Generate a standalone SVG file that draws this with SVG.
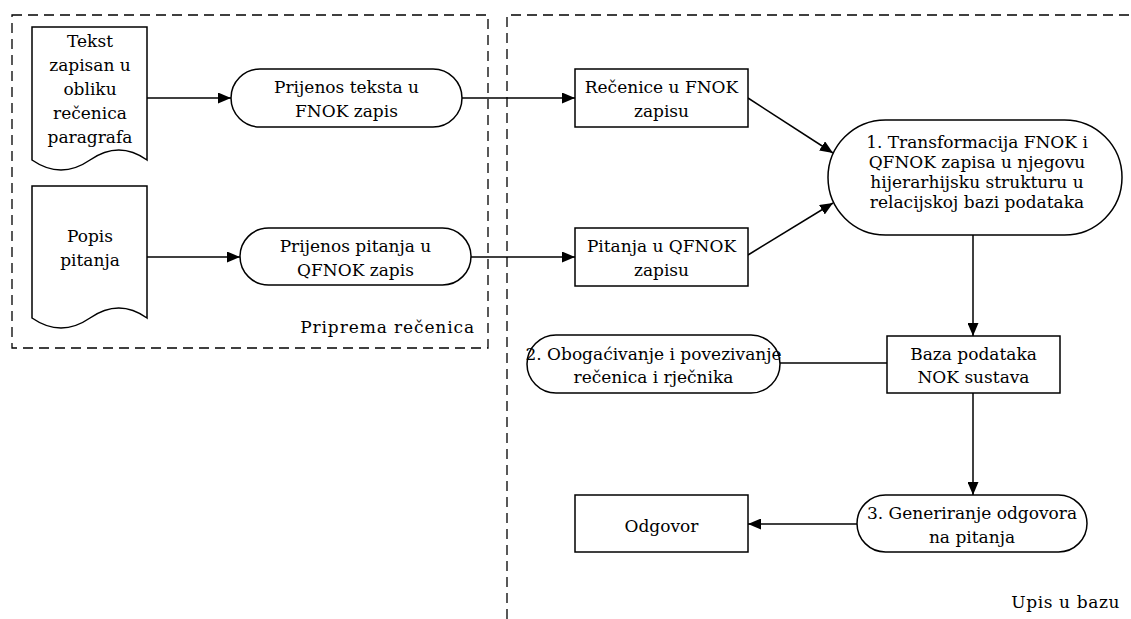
<svg xmlns="http://www.w3.org/2000/svg" width="1131" height="619" viewBox="0 0 1131 619">
<style>
.s{fill:#fff;stroke:#000;stroke-width:1.5}
.d{fill:none;stroke:#000;stroke-width:1.3;stroke-dasharray:10 6}
.c{fill:none;stroke:#000;stroke-width:1.5}
text{font-family:"DejaVu Serif","Liberation Serif",serif;font-size:17px;fill:#000;text-anchor:middle}
.r{text-anchor:end}
</style>
<defs>
<marker id="a" viewBox="0 0 13 11" refX="13" refY="5.5" markerWidth="13" markerHeight="11" markerUnits="userSpaceOnUse" orient="auto">
<path d="M0,0 L13,5.5 L0,11 Z" fill="#000"/>
</marker>
</defs>
<rect fill="#fff" x="0" y="0" width="1131" height="619"/>
<g id="regions">
<rect class="d" x="12" y="15" width="476" height="333"/>
<path class="d" d="M507,619 V15 H1131"/>
<text class="r" x="475" y="333" letter-spacing="0.9">Priprema rečenica</text>
<text class="r" x="1120" y="608" letter-spacing="0.6">Upis u bazu</text>
</g>
<g id="connectors">
<path class="c" d="M147,98 H231" marker-end="url(#a)"/>
<path class="c" d="M147,257 H240" marker-end="url(#a)"/>
<path class="c" d="M462,98 H575" marker-end="url(#a)"/>
<path class="c" d="M471,257 H575" marker-end="url(#a)"/>
<path class="c" d="M748,98 L833,153" marker-end="url(#a)"/>
<path class="c" d="M748,255 L833,203" marker-end="url(#a)"/>
<path class="c" d="M973,235 V336" marker-end="url(#a)"/>
<path class="c" d="M780,363 H887"/>
<path class="c" d="M973,393 V495" marker-end="url(#a)"/>
<path class="c" d="M857,524 H748" marker-end="url(#a)"/>
</g>
<g id="doc1">
<path class="s" d="M32,27 H147 V160 Q119,140 90,160 T32,160 Z"/>
<text x="90" y="47">Tekst</text>
<text x="90" y="71">zapisan u</text>
<text x="90" y="95">obliku</text>
<text x="90" y="119">rečenica</text>
<text x="90" y="143">paragrafa</text>
</g>
<g id="doc2">
<path class="s" d="M32,186 H147 V318 Q119,298 90,318 T32,318 Z"/>
<text x="90" y="242">Popis</text>
<text x="90" y="266">pitanja</text>
</g>
<g id="term1">
<rect class="s" x="231" y="69" width="231" height="58" rx="29" ry="29"/>
<text x="346.5" y="93">Prijenos teksta u</text>
<text x="346.5" y="117">FNOK zapis</text>
</g>
<g id="term2">
<rect class="s" x="240" y="228" width="231" height="57" rx="28.5" ry="28.5"/>
<text x="355.5" y="252">Prijenos pitanja u</text>
<text x="355.5" y="276">QFNOK zapis</text>
</g>
<g id="rec1">
<rect class="s" x="575" y="69" width="173" height="58"/>
<text x="661.5" y="93">Rečenice u FNOK</text>
<text x="661.5" y="117">zapisu</text>
</g>
<g id="rec2">
<rect class="s" x="575" y="228" width="173" height="58"/>
<text x="661.5" y="252">Pitanja u QFNOK</text>
<text x="661.5" y="276">zapisu</text>
</g>
<g id="transform">
<rect class="s" x="828" y="120" width="294" height="115" rx="57.5" ry="57.5"/>
<text x="977" y="148">1. Transformacija FNOK i</text>
<text x="977" y="168">QFNOK zapisa u njegovu</text>
<text x="977" y="188">hijerarhijsku strukturu u</text>
<text x="977" y="208">relacijskoj bazi podataka</text>
</g>
<g id="baza">
<rect class="s" x="887" y="336" width="173" height="57"/>
<text x="973.5" y="360">Baza podataka</text>
<text x="973.5" y="383">NOK sustava</text>
</g>
<g id="obogacivanje">
<rect class="s" x="527" y="335" width="253" height="58" rx="29" ry="29"/>
<text x="653.5" y="360">2. Obogaćivanje i povezivanje</text>
<text x="653.5" y="383">rečenica i rječnika</text>
</g>
<g id="generiranje">
<rect class="s" x="857" y="495" width="230" height="57" rx="28.5" ry="28.5"/>
<text x="972" y="519">3. Generiranje odgovora</text>
<text x="972" y="543">na pitanja</text>
</g>
<g id="odgovor">
<rect class="s" x="575" y="495" width="173" height="57"/>
<text x="661.5" y="532">Odgovor</text>
</g>
</svg>
